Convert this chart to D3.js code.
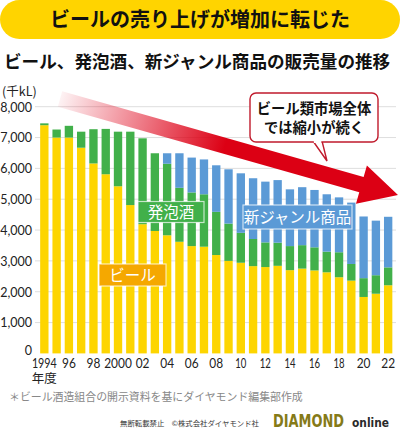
<!DOCTYPE html>
<html><head><meta charset="utf-8">
<script src="https://cdn.jsdelivr.net/npm/d3@7"></script>
<style>html,body{margin:0;padding:0;background:#fff;}svg{display:block;}</style>
</head><body>
<svg id="c" width="400" height="431"></svg>
<script>
const years = d3.range(1994, 2023);
const beer = [7400,7000,7000,6670,6160,5810,5420,4810,4190,3970,3830,3620,3480,3460,3190,3000,2940,2830,2800,2840,2700,2750,2690,2630,2470,2360,1830,1935,2210];
const happoshu = [60,260,380,520,1110,1470,1770,2380,2785,2520,2320,1750,1740,1700,1400,1210,970,880,800,750,780,760,750,670,810,540,610,600,580];
const newGenre = [0,0,0,0,0,0,0,0,0,0,340,1120,1130,1130,1510,1760,1930,1970,1970,2030,1840,1880,1860,1860,1780,1990,2000,1770,1640];
const yTicks = [0,1000,2000,3000,4000,5000,6000,7000,8000];
const xTickYears = [1994,1996,1998,2000,2002,2004,2006,2008,2010,2012,2014,2016,2018,2020,2022];
const xTickLabels = ["1994","96","98","2000","02","04","06","08","10","12","14","16","18","20","22"];
const seriesKeys = ["beer","happoshu","newGenre"];
const colors = {beer:"#fdd500", happoshu:"#41b04a", newGenre:"#5b9ad6"};

const rows = years.map((y,i)=>({year:y, beer:beer[i], happoshu:happoshu[i], newGenre:newGenre[i]}));
const svg = d3.select("#c");
const JP = "'Noto Sans CJK JP','Noto Sans',sans-serif";
const NUM = "Lato,'Noto Sans',sans-serif";
const NARROW = "'Liberation Sans Narrow','DejaVu Sans Condensed',sans-serif";

// Banner
svg.append("rect").attr("x",0).attr("y",0).attr("width",400).attr("height",39).attr("rx",19.5).attr("fill","#ffd400");
svg.append("text").attr("x",200).attr("y",27).attr("text-anchor","middle").attr("font-family",JP)
  .attr("font-weight",700).attr("font-size",20).attr("fill","#111").text("ビールの売り上げが増加に転じた");
svg.append("text").attr("x",4).attr("y",68).attr("font-family",JP).attr("font-weight",700)
  .attr("font-size",17.6).attr("fill","#111").text("ビール、発泡酒、新ジャンル商品の販売量の推移");
svg.append("text").attr("x",2).attr("y",96).attr("font-family",JP).attr("font-size",12.5).attr("fill","#222").text("(千kL)");

const x = d3.scaleBand().domain(years).range([38.2,394.3]).paddingInner(0.32).paddingOuter(0.16);
const y = d3.scaleLinear().domain([0,8000]).range([353.4,106.7]);

// grid
svg.append("g").selectAll("line").data(yTicks.slice(1)).join("line")
  .attr("x1",35).attr("x2",396).attr("y1",d=>y(d)).attr("y2",d=>y(d))
  .attr("stroke","#dedede").attr("stroke-width",1);

// y labels
const yAxis = d3.axisLeft(y).tickValues(yTicks).tickFormat(d3.format(",")).tickSize(0).tickPadding(0);
const gy = svg.append("g").attr("transform","translate(32,0)").call(yAxis);
gy.select(".domain").remove();
gy.selectAll("text").attr("font-family",NUM).attr("font-size",12.5).attr("fill","#222").attr("dy","0.35em");
gy.selectAll(".tick").filter(d=>d===0).select("text").attr("dy","0.1em");

// bars
const stack = d3.stack().keys(seriesKeys)(rows);
svg.append("g").selectAll("g").data(stack).join("g").attr("fill",d=>colors[d.key])
  .selectAll("rect").data(d=>d).join("rect")
  .attr("x",d=>x(d.data.year)).attr("width",x.bandwidth())
  .attr("y",d=>y(d[1])).attr("height",d=>Math.max(0,y(d[0])-y(d[1])));

// x labels
const charW = c => c==="1" ? 4.2 : 6.9;
const xAxis = d3.axisBottom(x).tickValues(xTickYears).tickFormat(d=>xTickLabels[xTickYears.indexOf(d)]).tickSize(0).tickPadding(0);
const gx = svg.append("g").attr("transform","translate(0,358)").call(xAxis);
gx.select(".domain").remove();
gx.selectAll("text").attr("font-family",NUM).attr("font-size",14).attr("fill","#222").attr("dy","0.72em")
  .attr("textLength",function(){ return d3.sum(this.textContent.split(""),charW); })
  .attr("lengthAdjust","spacingAndGlyphs");
svg.append("text").attr("x",x(1994)+x.bandwidth()/2).attr("y",383).attr("text-anchor","middle")
  .attr("font-family",JP).attr("font-size",12.5).attr("fill","#222").text("年度");

// arrow
const defs = svg.append("defs");
const gr = defs.append("linearGradient").attr("id","ag").attr("gradientUnits","userSpaceOnUse")
  .attr("x1",60).attr("y1",99).attr("x2",225).attr("y2",146);
gr.append("stop").attr("offset",0).attr("stop-color","#e0001b").attr("stop-opacity",0.05);
gr.append("stop").attr("offset",1).attr("stop-color","#dc0014").attr("stop-opacity",1);
(function(){
  const S=[60,99], T=[398,195];
  const dx=T[0]-S[0], dy=T[1]-S[1], len=Math.hypot(dx,dy);
  const d=[dx/len,dy/len], n=[-d[1],d[0]];
  const w=8, L=38, H=20;
  const B=[T[0]-L*d[0], T[1]-L*d[1]];
  const p=(P,k)=>[P[0]+k*n[0],P[1]+k*n[1]];
  const pts=[p(S,-w),p(B,-w),p(B,-H),T,p(B,H),p(B,w),p(S,w)];
  svg.append("path").attr("d","M"+pts.map(q=>q.join(",")).join("L")+"Z").attr("fill","url(#ag)");
})();

// callout
svg.append("path").attr("d","M313,141 L327,161 L322,141").attr("fill","#fff").attr("stroke","#c01a2c").attr("stroke-width",1.4);
svg.append("rect").attr("x",250).attr("y",93).attr("width",128).attr("height",49).attr("rx",6)
  .attr("fill","#fff").attr("stroke","#c01a2c").attr("stroke-width",1.4);
svg.append("rect").attr("x",313.8).attr("y",140).attr("width",7.5).attr("height",3).attr("fill","#fff");
svg.append("text").attr("x",314).attr("y",114).attr("text-anchor","middle").attr("font-family",JP)
  .attr("font-weight",700).attr("font-size",14.3).attr("fill","#111").text("ビール類市場全体");
svg.append("text").attr("x",314).attr("y",133).attr("text-anchor","middle").attr("font-family",JP)
  .attr("font-weight",700).attr("font-size",14.3).attr("fill","#111").text("では縮小が続く");

// series labels
function label(x0,y0,w,h,fill,txt,fs){
  svg.append("rect").attr("x",x0).attr("y",y0).attr("width",w).attr("height",h).attr("fill",fill)
    .attr("stroke","#fff").attr("stroke-opacity",0.7).attr("stroke-width",1.2);
  svg.append("text").attr("x",x0+w/2).attr("y",y0+h/2).attr("dy","0.36em").attr("text-anchor","middle")
    .attr("font-family",JP).attr("font-size",fs).attr("fill","#fff").text(txt);
}
label(138,201.5,66,21,colors.happoshu,"発泡酒",15.5);
label(243,205,109,24,colors.newGenre,"新ジャンル商品",15.5);
label(99,264,67,22,"#f5a800","ビール",15.5);

// footnote
svg.append("text").attr("x",9).attr("y",401).attr("font-family",JP).attr("font-size",10.9).attr("fill","#888")
  .text("＊ビール酒造組合の開示資料を基にダイヤモンド編集部作成");
svg.append("text").attr("x",120).attr("y",426).attr("font-family",JP).attr("font-size",7.4).attr("fill","#333")
  .text("無断転載禁止　©株式会社ダイヤモンド社");
svg.append("text").attr("x",273).attr("y",427).attr("font-family",NARROW)
  .attr("font-weight",700).attr("font-size",18).attr("fill","#857a18").attr("textLength",71).attr("lengthAdjust","spacingAndGlyphs").text("DIAMOND");
svg.append("text").attr("x",352).attr("y",427).attr("font-family","'DejaVu Sans',sans-serif")
  .attr("font-weight",700).attr("font-size",12).attr("fill","#2a2a2a").attr("textLength",37).attr("lengthAdjust","spacingAndGlyphs").text("online");
</script>
</body></html>
